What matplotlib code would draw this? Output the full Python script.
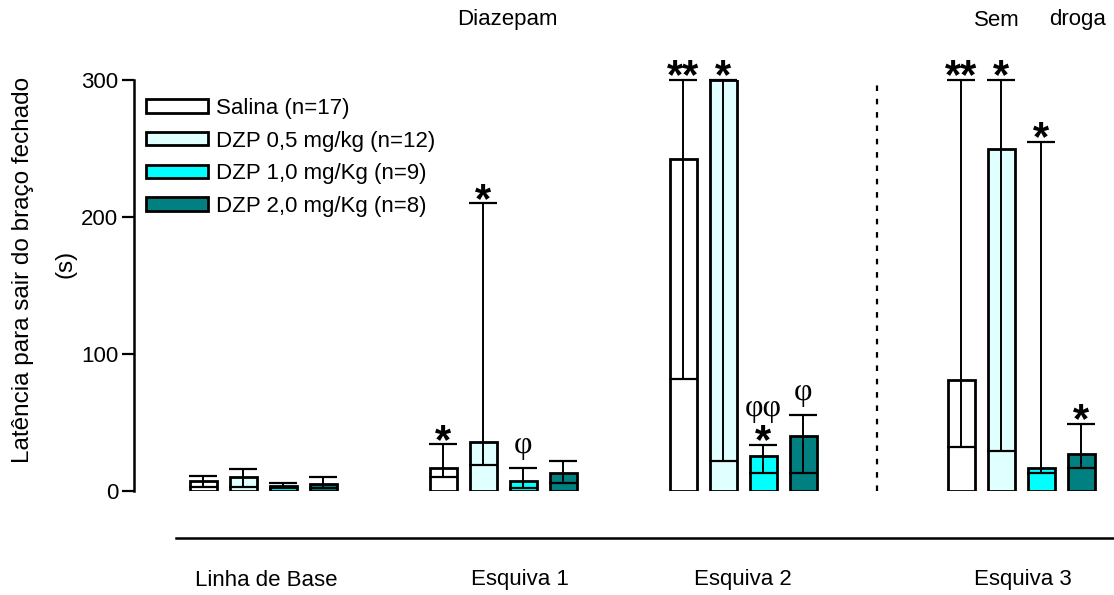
import matplotlib
matplotlib.use("Agg")
import matplotlib.pyplot as plt
import numpy as np

plt.rcParams['font.family'] = ['Liberation Sans', 'DejaVu Sans']

# ---- data ----
groups = ["Linha de Base", "Esquiva 1", "Esquiva 2", "Esquiva 3"]
series = ["Salina (n=17)", "DZP 0,5 mg/kg (n=12)", "DZP 1,0 mg/Kg (n=9)", "DZP 2,0 mg/Kg (n=8)"]

salina_med = [7, 17, 242, 81]
salina_low = [3, 10, 82, 32]
salina_up = [11, 34, 300, 300]

dzp05_med = [10, 36, 300, 250]
dzp05_low = [3, 19, 22, 29]
dzp05_up = [16, 210, 300, 300]

dzp10_med = [4, 7.5, 25.5, 17]
dzp10_low = [2, 2.4, 13.4, 13.4]
dzp10_up = [6, 16.5, 33.5, 255]

dzp20_med = [5, 13, 40, 27]
dzp20_low = [2.5, 5.6, 13, 16.5]
dzp20_up = [10, 22, 55.5, 49]

# annotations: (group index, series index, text)
stars = [(1, 0, "*"), (1, 1, "*"), (2, 0, "**"), (2, 1, "*"), (2, 2, "*"),
         (3, 0, "**"), (3, 1, "*"), (3, 2, "*"), (3, 3, "*")]
phis = [(1, 2, "φ"), (2, 3, "φ")]
phiphi = [(2, 2, "φφ")]

# ---- layout / style ----
W, H, DPI = 1114, 595, 100
fig = plt.figure(figsize=(W / DPI, H / DPI), dpi=DPI)
ax_left, ax_right, ax_bottom, ax_top = 134, 1114, 491, 80
ax = fig.add_axes([ax_left / W, (H - ax_bottom) / H, (ax_right - ax_left) / W, (ax_bottom - ax_top) / H])

group_pos = np.array([0, 1, 2, 3.16])
offsets = np.array([-1.5, -0.5, 0.5, 1.5]) / 6.0
bar_w = 27 / 240
colors = ["#FFFFFF", "#E0FFFF", "#00FFFF", "#008080"]

meds = [salina_med, dzp05_med, dzp10_med, dzp20_med]
lows = [salina_low, dzp05_low, dzp10_low, dzp20_low]
ups = [salina_up, dzp05_up, dzp10_up, dzp20_up]

for i in range(4):
    x = group_pos + offsets[i]
    m = np.array(meds[i], dtype=float)
    lo = np.array(lows[i], dtype=float)
    up = np.array(ups[i], dtype=float)
    ax.bar(x, m, width=bar_w, color=colors[i], edgecolor="black", linewidth=2.0,
           label=series[i], zorder=2)
    ax.errorbar(x, m, yerr=[m - lo, up - m], fmt="none", ecolor="black",
                elinewidth=1.4, capsize=10, capthick=1.6, zorder=3, clip_on=False)

xlim = ((ax_left - 263) / 240, (ax_right - 263) / 240)
ax.set_xlim(*xlim)
ax.set_ylim(0, 300)
ax.set_yticks([0, 100, 200, 300])
ax.tick_params(axis="y", labelsize=16, length=8.5, width=1.6, pad=3)
ax.set_xticks([])
for s in ["top", "right", "bottom"]:
    ax.spines[s].set_visible(False)
ax.spines["left"].set_linewidth(1.8)
ax.spines["left"].set_bounds(0, 300)

# annotations
for g, s, t in stars:
    x = group_pos[g] + offsets[s]
    ax.annotate(t, xy=(x, ups[s][g]), xytext=(0, -6), textcoords="offset points",
                ha="center", va="baseline", fontsize=30, fontweight="bold",
                annotation_clip=False)
for g, s, t in phis:
    x = group_pos[g] + offsets[s]
    ax.annotate(t, xy=(x, ups[s][g]), xytext=(0, 11), textcoords="offset points",
                ha="center", va="baseline", fontsize=23, family="Liberation Serif",
                annotation_clip=False)
for g, s, t in phiphi:
    x = group_pos[g] + offsets[s]
    ax.annotate(t, xy=(x, ups[s][g]), xytext=(0, 21), textcoords="offset points",
                ha="center", va="baseline", fontsize=23, family="Liberation Serif",
                annotation_clip=False)

# bottom horizontal line
line_y = (ax_bottom - 538) / (411 / 300)
ax.plot([(176 - 263) / 240, xlim[1]], [line_y, line_y], color="black", lw=1.8, clip_on=False)

# dashed separator
sep_x = (877 - 263) / 240
ax.plot([sep_x, sep_x], [0, 300], color="black", lw=1.6, linestyle=(0, (2.5, 3.5)), clip_on=False)

# group labels
label_px = [266, 520, 743, 1023]
for lab, px in zip(groups, label_px):
    fig.text(px / W, 1 - 580 / H, lab, ha="center", va="center", fontsize=16)

# top texts
fig.text(507 / W, 1 - 20 / H, "Diazepam", ha="center", va="center", fontsize=16)
fig.text(997 / W, 1 - 20 / H, "Sem", ha="center", va="center", fontsize=16)
fig.text(1078 / W, 1 - 20 / H, "droga", ha="center", va="center", fontsize=16)

# y label
fig.text(23 / W, 1 - 270 / H, "Latência para sair do braço fechado", rotation=90,
         ha="center", va="center", fontsize=17.5)
fig.text(66 / W, 1 - 264 / H, "(s)", rotation=90, ha="center", va="center", fontsize=17.5)

# legend
ax.legend(loc="upper left", bbox_to_anchor=((146 - ax_left) / (ax_right - ax_left), (ax_bottom - 98) / (ax_bottom - ax_top)),
          frameon=False, fontsize=16, handlelength=2.8, handleheight=0.55,
          handletextpad=0.35, labelspacing=0.52, borderaxespad=0, borderpad=0)

fig.savefig("out.png", dpi=DPI)
